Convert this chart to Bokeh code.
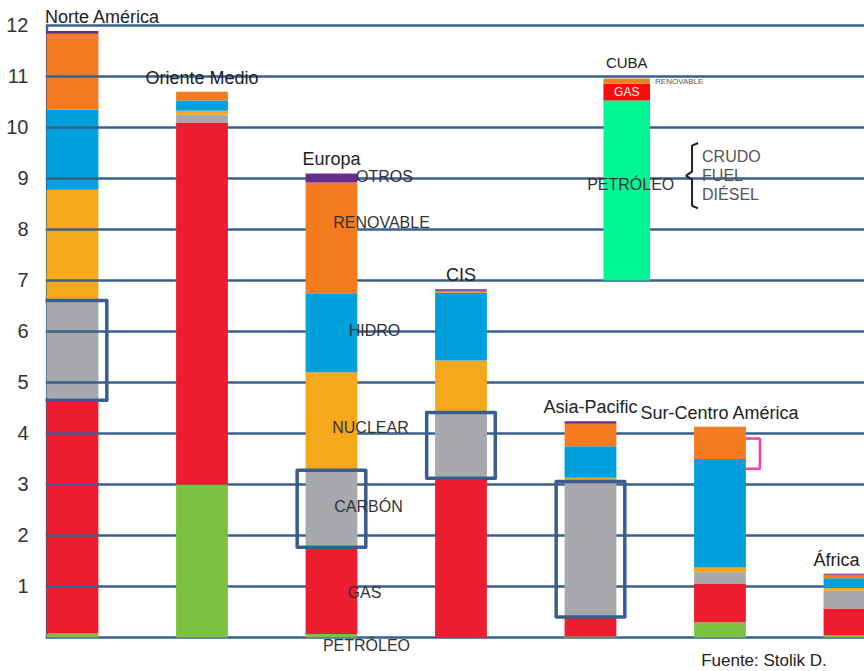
import numpy as np
from bokeh.plotting import figure
from bokeh.models import ColumnDataSource, Range1d, FixedTicker
from bokeh.core.properties import value
from bokeh.embed import file_html
from bokeh.resources import INLINE

# ---------------- data ----------------
regions = ["Norte América", "Oriente Medio", "Europa", "CIS",
           "Asia-Pacific", "Sur-Centro América", "África"]
sources = ["PETRÓLEO", "GAS", "CARBÓN", "NUCLEAR", "HIDRO", "RENOVABLE", "OTROS"]
petroleo  = [0.08, 3.00, 0.07, 0.00, 0.02, 0.30, 0.05]
gas       = [4.60, 7.10, 1.73, 3.15, 0.41, 0.75, 0.52]
carbon    = [1.90, 0.15, 1.45, 1.23, 2.60, 0.23, 0.35]
nuclear   = [2.20, 0.08, 1.95, 1.05, 0.10, 0.09, 0.05]
hidro     = [1.57, 0.20, 1.55, 1.33, 0.62, 2.13, 0.19]
renovable = [1.49, 0.17, 2.17, 0.04, 0.44, 0.63, 0.07]
otros     = [0.05, 0.00, 0.18, 0.03, 0.05, 0.00, 0.02]

cuba_label = "CUBA"
cuba_sources = ["PETRÓLEO", "GAS", "RENOVABLE"]
cuba_values = [3.53, 0.33, 0.10]
cuba_base = 7.0
petroleo_items = ["CRUDO", "FUEL", "DIÉSEL"]

y_ticks = list(range(1, 13))
grid_ticks = list(range(0, 13))
highlighted = ["Norte América", "Europa", "CIS", "Asia-Pacific"]
labelled_region = "Europa"
bracket_region = "Sur-Centro América"
bracket_span = (3.31, 3.90)
source_note = "Fuente: Stolik D."

# ---------------- styles / layout ----------------
COLORS = ["#7cc142", "#ed1c2e", "#a7a9ac", "#f6a81c", "#00a0dd", "#f47b20", "#6a2c8f"]
CUBA_COLORS = ["#00f595", "#ff0a0a", "#d98a22"]
GRID = "#3d5f8e"
FONT = "Liberation Sans"
PX = 129.5          # pixels per category step
BAR_W = 0.40
CUBA_X = 4.28
CUBA_W = 0.36

W, H = 864, 671
p = figure(width=W, height=H, output_backend="svg", toolbar_location=None,
           x_range=Range1d(-0.2085, 6.116), y_range=Range1d(-0.667, 12.49),
           x_axis_location=None, y_axis_location="left",
           min_border_left=45, min_border_right=0, min_border_top=0, min_border_bottom=0)
p.outline_line_color = None
p.background_fill_color = "white"
p.border_fill_color = "white"

p.yaxis.ticker = FixedTicker(ticks=y_ticks)
p.yaxis.axis_line_color = None
p.yaxis.major_tick_line_color = None
p.yaxis.minor_tick_line_color = None
p.yaxis.major_label_standoff = 11
p.yaxis.major_label_text_font = FONT
p.yaxis.major_label_text_font_size = "20px"
p.yaxis.major_label_text_color = "#333333"
p.xgrid.visible = False
p.ygrid.ticker = FixedTicker(ticks=grid_ticks)
p.ygrid.grid_line_color = GRID
p.ygrid.grid_line_width = 2.5

# vertical axis line
x_left = p.x_range.start + 1.5 / PX
p.segment(x0=[x_left], y0=[0], x1=[x_left], y1=[12], line_color=GRID, line_width=2.5)

# ---------------- stacked bars ----------------
xs = np.arange(len(regions), dtype=float)
keys = ["petroleo", "gas", "carbon", "nuclear", "hidro", "renovable", "otros"]
arr = np.array([petroleo, gas, carbon, nuclear, hidro, renovable, otros])
src = ColumnDataSource(dict(x=xs, **{k: v for k, v in zip(keys, arr)}))
p.vbar_stack(keys, x="x", width=BAR_W, color=COLORS, line_color=None, source=src)
cum = arr.cumsum(axis=0)
tops = cum[-1]

# grid lines visible over the first bar
na_lines = [t for t in grid_ticks if 0 < t < tops[0]]
p.segment(x0=[xs[0] - BAR_W / 2] * len(na_lines), x1=[xs[0] + BAR_W / 2] * len(na_lines),
          y0=na_lines, y1=na_lines, line_color=GRID, line_width=2.5)

# highlight boxes around the CARBÓN segment
hi = [regions.index(r) for r in highlighted]
p.quad(left=[xs[i] - 0.265 for i in hi], right=[xs[i] + 0.265 for i in hi],
       bottom=[cum[1, i] - 0.03 for i in hi], top=[cum[2, i] + 0.03 for i in hi],
       fill_color=None, line_color="#3a5d8c", line_width=3.5, line_join="round")

# region labels
reg_dx = [30, 0, 0, 0, 0, 0, -13]
p.text(x=xs, y=tops, text=regions, x_offset=reg_dx, y_offset=-4,
       text_align="center", text_baseline="bottom", text_font=value(FONT),
       text_font_size="18px", text_color="#222222")

# series labels on Europa
ei = regions.index(labelled_region)
mids = cum[:, ei] - arr[:, ei] / 2
mids[0] = 0.0
eu_dx = [35, 33, 37, 39, 43, 50, 53]
eu_dy = [8, 3, -2, 5, -2, -15, -1]
p.text(x=[xs[ei]] * len(sources), y=list(mids), text=sources, x_offset=eu_dx, y_offset=eu_dy,
       text_align="center", text_baseline="middle", text_font=value(FONT),
       text_font_size="16px", text_color="#333333")

# pink bracket
bi = regions.index(bracket_region)
br = xs[bi] + BAR_W / 2
p.line(x=[br, br + 14 / PX, br + 14 / PX, br],
       y=[bracket_span[1], bracket_span[1], bracket_span[0], bracket_span[0]],
       line_color="#ff3fa0", line_width=2.5)

# ---------------- Cuba inset ----------------
cv = np.array(cuba_values)
ctop = cuba_base + cv.cumsum()
cbot = ctop - cv
p.vbar(x=[CUBA_X] * 3, width=CUBA_W, bottom=cbot, top=ctop, color=CUBA_COLORS, line_color=None)
p.text(x=[CUBA_X], y=[ctop[-1]], text=[cuba_label], y_offset=-8, text_align="center",
       text_baseline="bottom", text_font=value(FONT), text_font_size="15px", text_color="#222222")
cmid = (cbot + ctop) / 2
p.text(x=[CUBA_X], y=[cmid[1]], text=[cuba_sources[1]], text_align="center",
       text_baseline="middle", text_font=value(FONT), text_font_size="12px", text_color="white")
p.text(x=[CUBA_X + CUBA_W / 2 + 5 / PX], y=[cmid[2]], text=[cuba_sources[2]], text_align="left",
       text_baseline="middle", text_font=value(FONT), text_font_size="8px", text_color="#555555")
p.text(x=[CUBA_X], y=[cmid[0]], text=[cuba_sources[0]], x_offset=4, y_offset=-6,
       text_align="center", text_baseline="middle", text_font=value(FONT),
       text_font_size="16px", text_color="#333333")

# brace and sub-items
bx = CUBA_X + CUBA_W / 2 + 42 / PX
bmid = cmid[0] + 0.29
bh = 0.64
s = 6 / PX
p.line(x=[bx + s, bx, bx, bx - s, bx, bx, bx + s],
       y=[bmid + bh, bmid + bh - 0.05, bmid + 0.08, bmid, bmid - 0.08, bmid - bh + 0.05, bmid - bh],
       line_color="#222222", line_width=2)
p.text(x=[bx + 10 / PX] * 3, y=[bmid] * 3, text=petroleo_items, y_offset=[-19, 0, 19],
       text_align="left", text_baseline="middle", text_font=value(FONT),
       text_font_size="16px", text_color="#555555")

# source note
p.text(x=[xs[bi] + 44 / PX], y=[0], text=[source_note], y_offset=23, text_align="center",
       text_baseline="middle", text_font=value(FONT), text_font_size="17px", text_color="#222222")

open("out.html", "w").write(file_html(p, INLINE))
